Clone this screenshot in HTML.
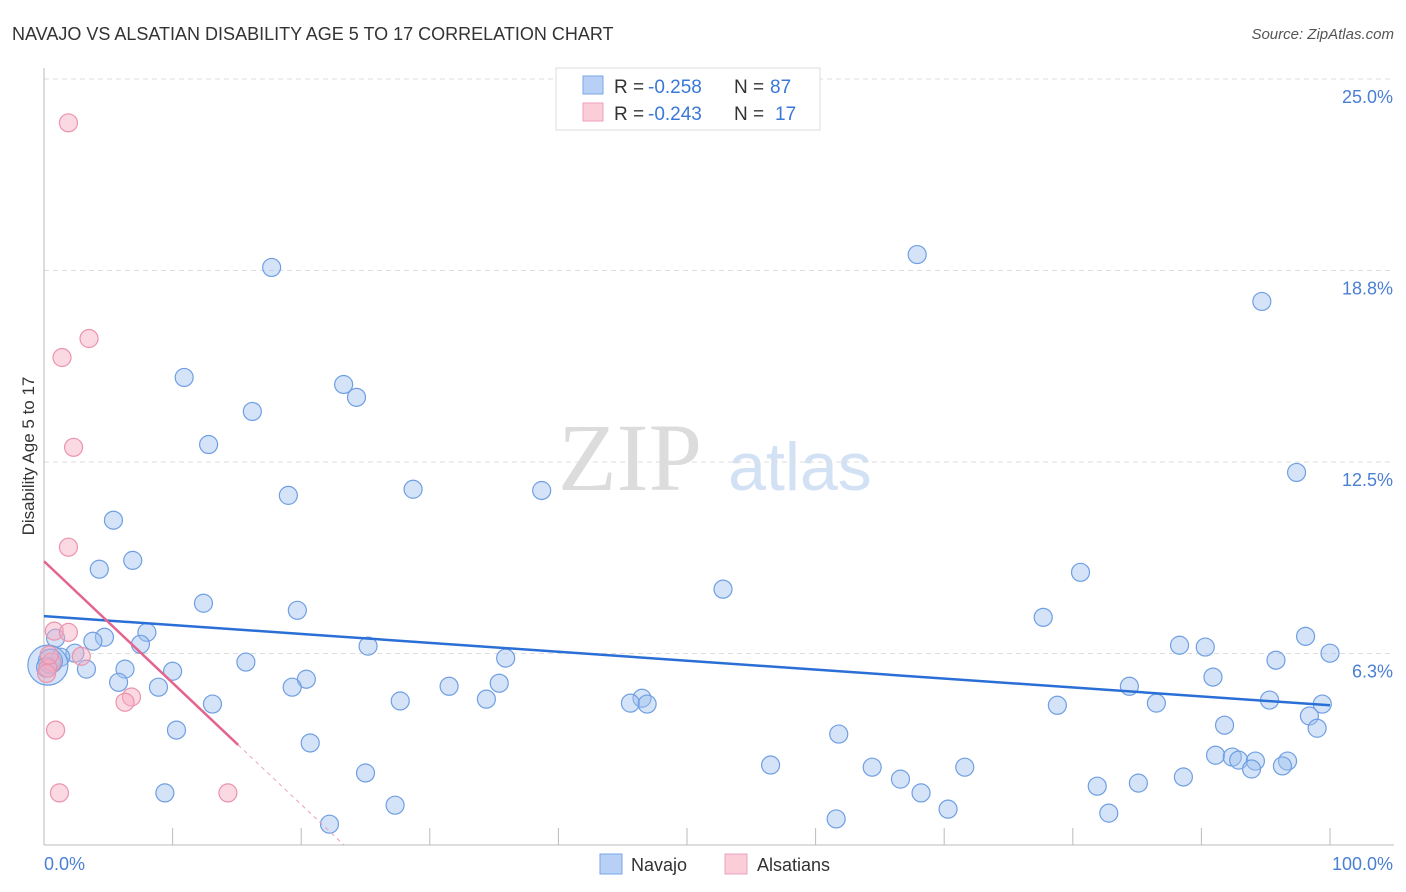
<!DOCTYPE html>
<html><head><meta charset="utf-8"><style>
body{margin:0;background:#fff;font-family:"Liberation Sans",sans-serif;}
svg{display:block}
</style></head><body>
<svg id="chart" width="1406" height="892">
<text x="12" y="40" font-size="18" fill="#333">NAVAJO VS ALSATIAN DISABILITY AGE 5 TO 17 CORRELATION CHART</text>
<text x="1394" y="39" font-size="15" fill="#555" font-style="italic" text-anchor="end">Source: ZipAtlas.com</text>
<text x="630" y="490" font-size="96" fill="#dcdcdc" font-family="Liberation Serif,serif" text-anchor="middle">ZIP</text>
<text x="800" y="490" font-size="68" fill="#d3e1f5" text-anchor="middle">atlas</text>
<text transform="translate(34,456) rotate(-90)" font-size="17" fill="#333" text-anchor="middle">Disability Age 5 to 17</text>
<g id="grid"></g><g id="axes"></g><g id="marks"></g>
<g>
<rect x="556" y="68" width="264" height="62" fill="#fff" stroke="#ddd"/>
<rect x="583" y="76" width="20" height="18" fill="#b8d0f5" stroke="#7aa6e6"/>
<rect x="583" y="103" width="20" height="18" fill="#fbcdd9" stroke="#eea0b6"/>
<g font-size="19" fill="#333">
<text x="614" y="93">R =</text><text x="648" y="93" fill="#3a78d8">-0.258</text><text x="734" y="93">N =</text><text x="770" y="93" fill="#3a78d8">87</text></g>
<g font-size="19" fill="#333">
<text x="614" y="120">R =</text><text x="648" y="120" fill="#3a78d8">-0.243</text><text x="734" y="120">N =</text><text x="775" y="120" fill="#3a78d8">17</text></g>
</g>
<g>
<rect x="600" y="854" width="22" height="20" fill="#b8d0f5" stroke="#7aa6e6"/>
<text x="631" y="871" font-size="18" fill="#333">Navajo</text>
<rect x="725" y="854" width="22" height="20" fill="#fbcdd9" stroke="#eea0b6"/>
<text x="757" y="871" font-size="18" fill="#333">Alsatians</text>
</g>
</svg>
<script>
const yTicks=[6.25,12.5,18.75,25];
const yTickLabels=["6.3%","12.5%","18.8%","25.0%"];
const xTickVals=[0,10,20,30,40,50,60,70,80,90,100];
const navajoX=[17.7,67.9,94.7,10.9,23.3,24.3,16.2,12.8,19.0,28.7,38.7,97.4,5.4,4.3,6.9,80.6,52.8,12.4,19.7,77.7,8.0,0.9,4.7,3.8,7.5,25.2,88.3,90.3,98.1,2.4,1.3,100,95.8,15.7,35.9,6.3,3.3,10.0,90.9,5.8,20.4,8.9,19.3,31.5,35.4,84.4,27.7,34.4,46.5,45.6,46.9,13.1,78.8,86.5,95.3,99.4,98.4,91.8,10.3,99.0,61.8,20.7,91.1,92.4,92.9,94.2,96.7,96.3,93.9,56.5,64.4,71.6,25.0,66.6,88.6,85.1,81.9,9.4,68.2,27.3,70.3,82.8,61.6,22.2,0.3,0.5,0.2];
const navajoY=[18.85,19.27,17.74,15.26,15.03,14.61,14.15,13.07,11.41,11.61,11.57,12.16,10.6,9.0,9.29,8.9,8.35,7.89,7.66,7.43,6.94,6.75,6.78,6.65,6.55,6.49,6.52,6.46,6.81,6.26,6.13,6.26,6.03,5.97,6.1,5.74,5.74,5.67,5.48,5.31,5.41,5.15,5.15,5.18,5.28,5.18,4.7,4.76,4.79,4.63,4.6,4.6,4.56,4.63,4.73,4.6,4.21,3.91,3.75,3.81,3.62,3.33,2.93,2.87,2.77,2.74,2.74,2.58,2.48,2.61,2.54,2.54,2.35,2.15,2.22,2.02,1.92,1.7,1.7,1.3,1.17,1.04,0.85,0.68,5.87,6.0,5.8];
const navajoR=[9,9,9,9,9,9,9,9,9,9,9,9,9,9,9,9,9,9,9,9,9,9,9,9,9,9,9,9,9,9,9,9,9,9,9,9,9,9,9,9,9,9,9,9,9,9,9,9,9,9,9,9,9,9,9,9,9,9,9,9,9,9,9,9,9,9,9,9,9,9,9,9,9,9,9,9,9,9,9,9,9,9,9,9,20,12,10];
const alsX=[1.9,3.5,1.4,2.3,1.9,0.8,1.9,2.9,0.6,0.3,6.8,6.3,0.9,1.2,14.3,0.4,0.2];
const alsY=[23.57,16.53,15.91,12.98,9.72,6.98,6.94,6.16,5.97,5.77,4.83,4.66,3.75,1.7,1.7,6.2,5.6];
const navajoTrend=[7.47,4.56];
const alsTrend=[9.26,-0.397];
const X0=44,X1=1330,Y0=845,Ytop=79;
const xs=v=>X0+v/100*(X1-X0);
const ys=v=>Y0-v/25*(Y0-Ytop);
const NS="http://www.w3.org/2000/svg";
function mk(parent,tag,attrs){const e=document.createElementNS(NS,tag);for(const k in attrs)e.setAttribute(k,attrs[k]);document.getElementById(parent).appendChild(e);return e;}
yTicks.forEach((t,i)=>{
 const l=mk('grid','line',{x1:X0,x2:1394,y1:ys(t),y2:ys(t),stroke:'#ddd','stroke-dasharray':'5,4'});
 
 
 const tx=mk('axes','text',{x:1393,y:ys(t)+24,'font-size':18,fill:'#4a7fd4','text-anchor':'end'});
 tx.textContent=yTickLabels[i];
 
 
});
let a=mk('axes','line',{x1:X0,x2:X0,y1:68,y2:Y0,stroke:'#bbb'});


a=mk('axes','line',{x1:X0,x2:1394,y1:Y0,y2:Y0,stroke:'#bbb'});


xTickVals.forEach(v=>{if(v===0)return;const t=mk('axes','line',{x1:xs(v),x2:xs(v),y1:828,y2:Y0,stroke:'#bbb'});
 
 });
let t=mk('axes','text',{x:44,y:870,'font-size':18,fill:'#4a7fd4'});t.textContent='0.0%';


t=mk('axes','text',{x:1393,y:870,'font-size':18,fill:'#4a7fd4','text-anchor':'end'});t.textContent='100.0%';


navajoX.forEach((x,i)=>{const c=mk('marks','circle',{cx:xs(x),cy:ys(navajoY[i]),r:navajoR[i],fill:'rgba(160,192,240,0.45)',stroke:'#6f9fe2','stroke-width':1.2});
 
 });
alsX.forEach((x,i)=>{const c=mk('marks','circle',{cx:xs(x),cy:ys(alsY[i]),r:9,fill:'rgba(247,170,192,0.45)',stroke:'#eb93ad','stroke-width':1.2});
 
 });
let l=mk('marks','line',{x1:xs(0),y1:ys(navajoTrend[0]),x2:xs(100),y2:ys(navajoTrend[1]),stroke:'#2a6fd6','stroke-width':2.5});


const xe=15.1,xz=-alsTrend[0]/alsTrend[1];
l=mk('marks','line',{x1:xs(0),y1:ys(alsTrend[0]),x2:xs(xe),y2:ys(alsTrend[0]+alsTrend[1]*xe),stroke:'#e4648e','stroke-width':2.5});


l=mk('marks','line',{x1:xs(xe),y1:ys(alsTrend[0]+alsTrend[1]*xe),x2:xs(xz),y2:ys(0),stroke:'#eca0b8','stroke-width':1,'stroke-dasharray':'4,4'});


</script>
</body></html>
